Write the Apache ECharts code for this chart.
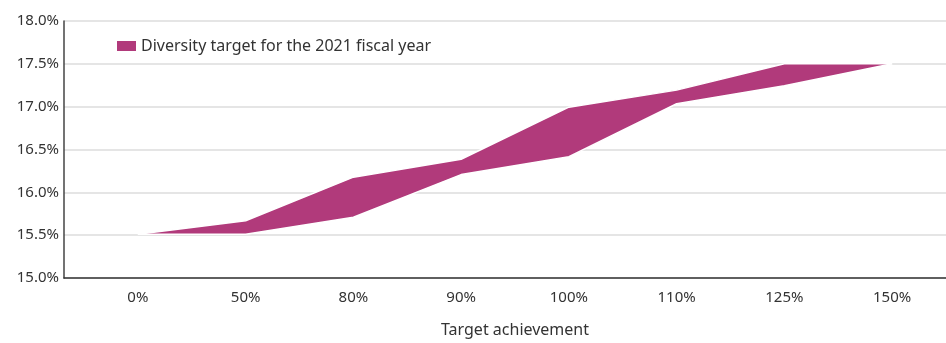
<!DOCTYPE html>
<html>
<head>
<meta charset="utf-8">
<script src="https://cdn.jsdelivr.net/npm/echarts@6/dist/echarts.min.js"></script>
<style>
  html, body { margin: 0; padding: 0; background: #fff; }
  #main { width: 946px; height: 343px; }
</style>
</head>
<body>
<div id="main"></div>
<script>
var categories = ['0%', '50%', '80%', '90%', '100%', '110%', '125%', '150%'];
var lowerValues = [15.5, 15.5, 15.7, 16.2, 16.41, 17.03, 17.24, 17.5];
var upperValues = [15.5, 15.66, 16.17, 16.38, 16.99, 17.19, 17.5, 17.5];
var seriesName = 'Diversity target for the 2021 fiscal year';
var axisTitle = 'Target achievement';

var bandColor = '#b13a7b';
var fontName = 'Noto Sans';

// band thickness on top of the lower edge
var bandWidth = [];
for (var i = 0; i < upperValues.length; i++) {
    bandWidth.push(+(upperValues[i] - lowerValues[i]).toFixed(3));
}

var myChart = echarts.init(document.getElementById('main'));

var option = {
    animation: false,
    textStyle: { fontFamily: fontName },
    legend: {
        left: 112, top: 33,
        icon: 'rect', itemWidth: 19, itemHeight: 10, itemGap: 10,
        data: [seriesName],
        textStyle: { fontSize: 16, color: '#333', fontFamily: fontName }
    },
    grid: [
        { left: 64, right: 0, top: 21, bottom: 65 },
        { left: 84, width: 864, top: 21, bottom: 65 }
    ],
    xAxis: [
        {
            gridIndex: 0, type: 'category', data: categories,
            axisLine: { lineStyle: { color: '#333', width: 1.5 } },
            axisTick: { show: false }, axisLabel: { show: false }
        },
        {
            gridIndex: 1, type: 'category', data: categories,
            axisLine: { show: false }, axisTick: { show: false },
            axisLabel: { color: '#333', fontSize: 15, margin: 13 },
            name: axisTitle, nameLocation: 'middle', nameGap: 45,
            nameTextStyle: { color: '#333', fontSize: 16 }
        }
    ],
    yAxis: [
        {
            gridIndex: 0, type: 'value', min: 15, max: 18, interval: 0.5,
            axisLine: { show: true, lineStyle: { color: '#444', width: 1.5 } },
            axisTick: { show: false },
            axisLabel: {
                color: '#333', fontSize: 15, margin: 5,
                formatter: function (v) { return v.toFixed(1) + '%'; }
            },
            splitLine: { lineStyle: { color: '#dcdcdc', width: 1.5 } }
        },
        {
            gridIndex: 1, type: 'value', min: 15, max: 18, interval: 0.5,
            show: false
        }
    ],
    series: [
        {
            name: 'lower', type: 'line', stack: 'band',
            xAxisIndex: 1, yAxisIndex: 1, z: 3,
            data: lowerValues, symbol: 'none',
            lineStyle: { color: '#fff', width: 1.5 }
        },
        {
            name: seriesName, type: 'line', stack: 'band',
            xAxisIndex: 1, yAxisIndex: 1,
            data: bandWidth, symbol: 'none',
            itemStyle: { color: bandColor },
            lineStyle: { color: '#fff', width: 1.5 },
            areaStyle: { color: bandColor, opacity: 1 }
        }
    ]
};

myChart.setOption(option);
</script>
</body>
</html>
